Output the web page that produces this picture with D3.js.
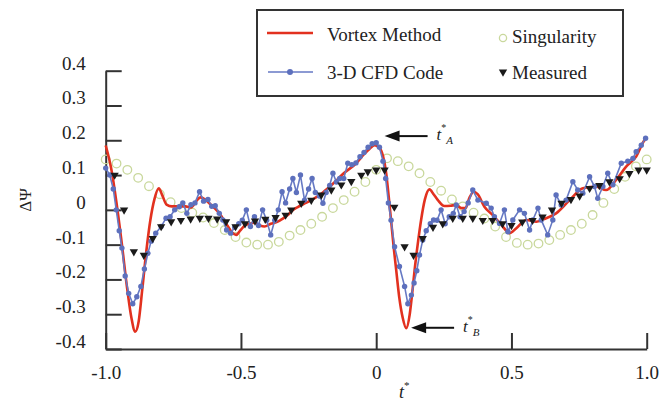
<!DOCTYPE html>
<html>
<head>
<meta charset="utf-8">
<script src="https://cdn.jsdelivr.net/npm/d3@7"></script>
<style>
  html, body { margin: 0; padding: 0; background: #fff; }
  svg { display: block; }
  text { font-family: "Liberation Serif", "Times New Roman", Tinos, "Noto Serif", "DejaVu Serif", serif; fill: #222; }
</style>
</head>
<body>
<svg id="chart" width="661" height="402"></svg>
<script>
// ---- data ----------------------------------------------------------
const xTicks = [-1, -0.5, 0, 0.5, 1];
const xTickLabels = ["-1.0", "-0.5", "0", "0.5", "1.0"];
const yTicks = [0.4, 0.3, 0.2, 0.1, 0, -0.1, -0.2, -0.3, -0.4];
const yTickLabels = ["0.4", "0.3", "0.2", "0.1", "0", "-0.1", "-0.2", "-0.3", "-0.4"];

// Vortex Method (smooth curve)
const vortexT = [-1.0, -0.98, -0.96, -0.94, -0.92, -0.905, -0.891, -0.878, -0.865, -0.85, -0.835, -0.82, -0.804,
  -0.79, -0.775, -0.755, -0.73, -0.705, -0.684, -0.665, -0.65, -0.633, -0.617, -0.598, -0.579, -0.563, -0.549,
  -0.533, -0.518, -0.503, -0.487, -0.468, -0.45, -0.43, -0.413, -0.39, -0.364, -0.345, -0.327, -0.31, -0.29,
  -0.26, -0.23, -0.197, -0.16, -0.12, -0.074, -0.045, -0.025, -0.006, 0.01, 0.025, 0.037, 0.046, 0.055, 0.065,
  0.074, 0.085, 0.098, 0.111, 0.124, 0.133, 0.142, 0.155, 0.166, 0.18, 0.197, 0.212, 0.228, 0.252, 0.275,
  0.296, 0.315, 0.33, 0.345, 0.36, 0.375, 0.4, 0.431, 0.468, 0.493, 0.518, 0.555, 0.592, 0.628, 0.665, 0.715,
  0.764, 0.813, 0.85, 0.887, 0.924, 0.961, 0.992, 1.0];
const vortexV = [0.185, 0.12, 0.02, -0.1, -0.23, -0.31, -0.35, -0.32, -0.23, -0.12, -0.03, 0.03, 0.062,
  0.04, 0.015, 0.01, 0.01, 0.01, 0.007, 0.025, 0.036, 0.03, 0.019, 0.005, -0.01, -0.03, -0.046,
  -0.065, -0.072, -0.06, -0.046, -0.04, -0.037, -0.045, -0.048, -0.04, -0.034, -0.025, -0.015, -0.002, 0.008,
  0.02, 0.032, 0.05, 0.075, 0.105, 0.134, 0.16, 0.175, 0.186, 0.18, 0.155, 0.105, 0.04, -0.03, -0.11,
  -0.173, -0.25, -0.31, -0.34, -0.3, -0.24, -0.173, -0.09, -0.029, 0.03, 0.059, 0.045, 0.028, 0.011, 0.012,
  0.014, 0.005, 0.005, 0.035, 0.052, 0.045, 0.009, -0.015, -0.048, -0.067, -0.053, -0.029, -0.034, -0.024, -0.01, 0.028,
  0.062, 0.067, 0.057, 0.086, 0.124, 0.153, 0.2, 0.205];

// 3-D CFD Code
const cfdT = [-1.0, -0.985, -0.972, -0.961, -0.95, -0.94, -0.928, -0.915, -0.9, -0.885, -0.87, -0.857, -0.844,
  -0.832, -0.815, -0.795, -0.777, -0.762, -0.745, -0.728, -0.715, -0.7, -0.685, -0.67, -0.653, -0.638, -0.622,
  -0.608, -0.595, -0.58, -0.567, -0.553, -0.538, -0.523, -0.508, -0.495, -0.48, -0.465, -0.45, -0.435, -0.42,
  -0.405, -0.39, -0.375, -0.362, -0.348, -0.335, -0.32, -0.308, -0.295, -0.28, -0.265, -0.25, -0.237, -0.225,
  -0.21, -0.197, -0.185, -0.172, -0.16, -0.147, -0.135, -0.12, -0.105, -0.09, -0.075, -0.06, -0.045, -0.03,
  -0.015, 0.0, 0.012, 0.025, 0.035, 0.045, 0.055, 0.068, 0.086, 0.105, 0.117, 0.13, 0.14, 0.15, 0.16, 0.172,
  0.185, 0.2, 0.212, 0.225, 0.24, 0.255, 0.27, 0.285, 0.296, 0.31, 0.325, 0.34, 0.357, 0.376, 0.407, 0.425,
  0.437, 0.456, 0.474, 0.487, 0.505, 0.53, 0.548, 0.567, 0.579, 0.598, 0.61, 0.634, 0.653, 0.665, 0.684, 0.702,
  0.727, 0.745, 0.764, 0.789, 0.807, 0.819, 0.838, 0.856, 0.875, 0.906, 0.93, 0.949, 0.961, 0.98, 0.996];
const cfdV = [0.12, 0.1, 0.06, 0.0, -0.06, -0.11, -0.19, -0.24, -0.27, -0.25, -0.22, -0.17, -0.125,
  -0.09, -0.067, -0.048, -0.024, -0.02, 0.0, 0.009, 0.02, -0.01, 0.015, 0.02, 0.052, 0.025, 0.03,
  0.01, 0.012, -0.01, -0.029, -0.058, -0.067, -0.05, -0.04, -0.03, 0.0, -0.048, -0.02, -0.045, 0.0,
  -0.03, -0.072, -0.03, 0.0, 0.052, 0.02, 0.06, 0.09, 0.05, 0.1, 0.028, 0.06, 0.09, 0.05,
  0.04, 0.019, 0.05, 0.07, 0.105, 0.08, 0.09, 0.09, 0.134, 0.13, 0.135, 0.153, 0.165, 0.18,
  0.19, 0.193, 0.18, 0.14, 0.09, 0.02, -0.03, -0.106, -0.163, -0.22, -0.27, -0.245, -0.21, -0.175, -0.13, -0.087,
  -0.06, -0.04, -0.029, -0.03, 0.0, -0.04, -0.02, -0.01, 0.014, -0.02, -0.005, 0.02, 0.057, 0.028, 0.019, 0.005,
  -0.02, -0.039, 0.0, -0.063, -0.029, 0.0, -0.01, -0.058, -0.029, 0.005, -0.029, -0.072, -0.029, 0.043, 0.014, 0.028,
  0.081, 0.057, 0.048, 0.095, 0.067, 0.033, 0.067, 0.105, 0.072, 0.134, 0.14, 0.148, 0.167, 0.186, 0.206];

// Singularity (open circles), sampled every 0.04
const singT = d3.range(0, 51).map(i => -1 + i * 0.04);
const singV = [0.145, 0.133, 0.115, 0.092, 0.068, 0.045, 0.022, 0.005, -0.008, -0.022, -0.038, -0.058, -0.078,
  -0.094, -0.1, -0.1, -0.092, -0.074, -0.058, -0.04, -0.02, 0.005, 0.028, 0.052, 0.08, 0.115,
  0.148, 0.14, 0.125, 0.105, 0.08, 0.055, 0.03, 0.01, -0.008, -0.025, -0.048, -0.078, -0.095, -0.1,
  -0.097, -0.087, -0.072, -0.058, -0.04, -0.015, 0.02, 0.06, 0.095, 0.125, 0.145];

// Measured (filled triangles)
const measT = [-0.967, -0.932, -0.896, -0.859, -0.826, -0.795, -0.758, -0.722, -0.686, -0.652, -0.62, -0.588,
  -0.555, -0.52, -0.485, -0.448, -0.41, -0.372, -0.335, -0.314, -0.277, -0.24, -0.203, -0.166, -0.129, -0.092,
  -0.055, -0.031, 0.0, 0.031, 0.067, 0.105, 0.138, 0.172, 0.21, 0.246, 0.283, 0.32, 0.357, 0.394, 0.43, 0.467,
  0.5, 0.54, 0.578, 0.615, 0.65, 0.685, 0.72, 0.752, 0.789, 0.825, 0.862, 0.9, 0.936, 0.97, 1.0];
const measV = [0.1, 0.0, -0.12, -0.13, -0.082, -0.048, -0.034, -0.03, -0.026, -0.024, -0.024, -0.026,
  -0.034, -0.048, -0.04, -0.032, -0.027, -0.022, -0.015, 0.0, 0.019, 0.028, 0.043, 0.057, 0.072, 0.082,
  0.1, 0.11, 0.115, 0.115, 0.008, -0.106, -0.13, -0.082, -0.05, -0.04, -0.024, -0.024, -0.024, -0.03, -0.03, -0.04,
  -0.045, -0.035, -0.03, -0.02, 0.0, 0.019, 0.03, 0.04, 0.062, 0.07, 0.081, 0.09, 0.105, 0.115, 0.115];

// Points marked by the arrows
const markerLabels = ["A", "B"];
const markerT = [0.031, 0.129];
const markerV = [0.212, -0.339];

const seriesNames = ["Vortex Method", "3-D CFD Code", "Singularity", "Measured"];

// ---- drawing ---------------------------------------------------------
const RED = "#e2311f", BLUE = "#6679c4", GREEN = "#c9d89c", AXIS = "#333";

const svg = d3.select("#chart");
const x = d3.scaleLinear().domain([-1, 1]).range([105.7, 646.7]);
const y = d3.scaleLinear().domain([-0.4, 0.4]).range([349, 70.7]);

const zip = (a, b) => a.map((t, i) => [t, b[i]]);

// axes: ticks point inward
const xAxis = d3.axisBottom(x).tickValues(xTicks)
  .tickFormat((d, i) => xTickLabels[i]).tickSizeInner(-16).tickSizeOuter(0).tickPadding(17);
const yAxis = d3.axisLeft(y).tickValues(yTicks)
  .tickFormat((d, i) => yTickLabels[i]).tickSizeInner(-16).tickSizeOuter(0).tickPadding(20);

const gx = svg.append("g").attr("transform", `translate(0,${y(-0.4)})`).call(xAxis);
const gy = svg.append("g").attr("transform", `translate(${x(-1)},0)`).call(yAxis);
[gx, gy].forEach(g => {
  // let the stylesheet font apply to tick labels
  g.attr("font-family", null).attr("font-size", null);
  g.select(".domain").attr("stroke", AXIS).attr("stroke-width", 2);
  g.selectAll(".tick line").attr("stroke", AXIS).attr("stroke-width", 2);
  g.selectAll(".tick text").style("font-size", "19px").attr("fill", "#333");
});
gy.selectAll(".tick text").attr("dy", "-0.08em");

// axis titles
svg.append("text").attr("x", 399).attr("y", 398)
  .style("font-size", "18px").style("font-style", "italic").attr("fill", "#333")
  .text("t").append("tspan").attr("dy", -9).style("font-size", "11px").style("font-style", "normal").text("*");
svg.append("text").attr("transform", "translate(31,200) rotate(-90)")
  .attr("text-anchor", "middle").style("font-size", "17px").attr("fill", "#333").text("ΔΨ");

// Singularity circles
svg.append("g").selectAll("circle").data(zip(singT, singV)).join("circle")
  .attr("cx", d => x(d[0])).attr("cy", d => y(d[1])).attr("r", 4.3)
  .attr("fill", "none").attr("stroke", GREEN).attr("stroke-width", 1.3);

// Vortex Method line
svg.append("path").datum(zip(vortexT, vortexV))
  .attr("fill", "none").attr("stroke", RED).attr("stroke-width", 2.6)
  .attr("stroke-linejoin", "round")
  .attr("d", d3.line().x(d => x(d[0])).y(d => y(d[1])).curve(d3.curveMonotoneX));

// 3-D CFD line with dots
const cfd = zip(cfdT, cfdV);
svg.append("path").datum(cfd)
  .attr("fill", "none").attr("stroke", BLUE).attr("stroke-width", 1.6)
  .attr("d", d3.line().x(d => x(d[0])).y(d => y(d[1])));
svg.append("g").selectAll("circle").data(cfd).join("circle")
  .attr("cx", d => x(d[0])).attr("cy", d => y(d[1])).attr("r", 2.7).attr("fill", "#5d70bd");

// Measured triangles (pointing down)
const tri = d3.symbol().type(d3.symbolTriangle).size(30);
svg.append("g").selectAll("path").data(zip(measT, measV)).join("path")
  .attr("d", tri).attr("fill", "#1a1a1a")
  .attr("transform", d => `translate(${x(d[0])},${y(d[1])}) rotate(180)`);

// arrows pointing at the marked extremes
markerLabels.forEach((lab, i) => {
  const px = x(markerT[i]), py = y(markerV[i]);
  const g = svg.append("g");
  g.append("line").attr("x1", px + 12).attr("y1", py).attr("x2", px + 43).attr("y2", py)
    .attr("stroke", "#111").attr("stroke-width", 2);
  g.append("path").attr("d", `M${px},${py} L${px + 15},${py - 5.5} L${px + 15},${py + 5.5} Z`).attr("fill", "#111");
  const t = g.append("text").attr("x", px + 52).attr("y", py + 4)
    .style("font-size", "17px").style("font-style", "italic").attr("fill", "#333").text("t");
  t.append("tspan").attr("dy", -9).style("font-size", "10px").style("font-style", "normal").text("*");
  t.append("tspan").attr("dy", 13).style("font-size", "11px").text(lab);
});

// legend
const lg = svg.append("g");
lg.append("rect").attr("x", 257).attr("y", 10).attr("width", 366).attr("height", 86)
  .attr("fill", "#fff").attr("stroke", "#333").attr("stroke-width", 2);
lg.append("line").attr("x1", 267).attr("x2", 313).attr("y1", 33).attr("y2", 33)
  .attr("stroke", RED).attr("stroke-width", 2.6);
lg.append("line").attr("x1", 268).attr("x2", 313).attr("y1", 72).attr("y2", 72)
  .attr("stroke", BLUE).attr("stroke-width", 1.6);
lg.append("circle").attr("cx", 290).attr("cy", 72).attr("r", 3).attr("fill", "#5d70bd");
lg.append("circle").attr("cx", 503).attr("cy", 38).attr("r", 3.6)
  .attr("fill", "none").attr("stroke", GREEN).attr("stroke-width", 1.3);
lg.append("path").attr("d", tri).attr("fill", "#1a1a1a").attr("transform", "translate(503,72) rotate(180)");
const legendPos = [[327, 41], [327, 78.5], [512, 43], [512, 79]];
seriesNames.forEach((name, i) => {
  lg.append("text").attr("x", legendPos[i][0]).attr("y", legendPos[i][1])
    .style("font-size", "19px").attr("fill", "#222").text(name);
});
</script>
</body>
</html>
